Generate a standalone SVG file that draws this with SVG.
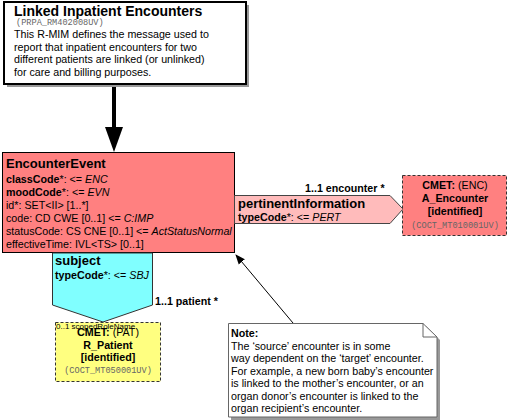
<svg xmlns="http://www.w3.org/2000/svg" width="509" height="420" viewBox="0 0 509 420">
<defs>
<marker id="arr" markerWidth="10" markerHeight="10" refX="9" refY="5" orient="auto" markerUnits="userSpaceOnUse">
<path d="M0,1 L10,5 L0,9 Z" fill="#000"/>
</marker>
</defs>
<style>
text{font-family:"Liberation Sans",Arial,sans-serif;fill:#000}
.b{font-weight:bold}
.i{font-style:italic}
.t11{font-size:10.7px}
.t13{font-size:13px}
.mono{font-family:"Liberation Mono","Courier New",monospace;font-size:8.6px;fill:#666}
.shadow{fill:#999}
.dash{stroke:#333;stroke-width:1;stroke-dasharray:3,2}
</style>
<rect width="509" height="420" fill="#fff"/>

<g id="connectors">
<line x1="114" y1="84" x2="114" y2="128" stroke="#000" stroke-width="4"/>
<polygon points="105,127 123,127 114,152" fill="#000"/>
<line x1="293" y1="323" x2="236" y2="255" stroke="#000" stroke-width="1" marker-end="url(#arr)"/>
</g>

<g id="title">
<rect x="7" y="5" width="242" height="82" class="shadow"/>
<rect x="4" y="2" width="242" height="82" fill="#fff" stroke="#000" stroke-width="2"/>
<text x="14" y="16" class="b" style="font-size:14px">Linked Inpatient Encounters</text>
<text x="16" y="25" class="mono">(PRPA_RM402008UV)</text>
<text x="14" y="38" class="t11">This R-MIM defines the message used to</text>
<text x="14" y="50.5" class="t11">report that inpatient encounters for two</text>
<text x="14" y="63" class="t11">different patients are linked (or unlinked)</text>
<text x="14" y="75.5" class="t11">for care and billing purposes.</text>
</g>

<g id="EncounterEvent">
<rect x="2.5" y="152.5" width="232" height="100" fill="#FF8080" stroke="#000" stroke-width="1"/>
<text x="6" y="168" class="b t13">EncounterEvent</text>
<text x="6" y="183" class="t11"><tspan class="b">classCode</tspan>*: &lt;= <tspan class="i">ENC</tspan></text>
<text x="6" y="196" class="t11"><tspan class="b">moodCode</tspan>*: &lt;= <tspan class="i">EVN</tspan></text>
<text x="6" y="209" class="t11">id*: SET&lt;II&gt; [1..*]</text>
<text x="6" y="222" class="t11">code: CD CWE [0..1] &lt;= <tspan class="i">C:IMP</tspan></text>
<text x="6" y="235" class="t11">statusCode: CS CNE [0..1] &lt;= <tspan class="i">ActStatusNormal</tspan></text>
<text x="6" y="248" class="t11">effectiveTime: IVL&lt;TS&gt; [0..1]</text>
</g>

<g id="pertinentInformation">
<path d="M234.5,195.5 L390,195.5 L403,209 L390,223.5 L234.5,223.5 Z" fill="#FFBBBB" stroke="#444" stroke-width="1"/>
<text x="238" y="208" class="b t13">pertinentInformation</text>
<text x="238" y="221" class="t11"><tspan class="b">typeCode</tspan>*: &lt;= <tspan class="i">PERT</tspan></text>
<text x="305" y="192" class="b t11">1..1 encounter  *</text>
</g>

<g id="A_Encounter">
<rect x="402.5" y="175.5" width="104" height="60" fill="#FF8080" class="dash"/>
<text x="455" y="189" text-anchor="middle" class="t11"><tspan class="b">CMET:</tspan> (ENC)</text>
<text x="455" y="202" text-anchor="middle" class="b t11">A_Encounter</text>
<text x="455" y="215" text-anchor="middle" class="b t11">[identified]</text>
<text x="455" y="228" text-anchor="middle" class="mono">(COCT_MT010001UV)</text>
</g>

<g id="subject">
<path d="M52.5,253 L152.5,253 L152.5,305 L103,322 L52.5,305 Z" fill="#80FFFF" stroke="#333" stroke-width="1"/>
<text x="55" y="265" class="b t13">subject</text>
<text x="55" y="279" class="t11"><tspan class="b">typeCode</tspan>*: &lt;= <tspan class="i">SBJ</tspan></text>
<text x="155" y="305" class="b t11">1..1 patient  *</text>
</g>

<g id="R_Patient">
<rect x="55.5" y="322.5" width="105" height="59" fill="#FFFF80" class="dash"/>
<text x="56" y="329" style="font-size:8px">0..1 scopedRoleName</text>
<text x="108" y="336" text-anchor="middle" class="t11"><tspan class="b">CMET:</tspan> (PAT)</text>
<text x="108" y="348.5" text-anchor="middle" class="b t11">R_Patient</text>
<text x="108" y="361" text-anchor="middle" class="b t11">[identified]</text>
<text x="108" y="373" text-anchor="middle" class="mono">(COCT_MT050001UV)</text>
</g>

<g id="note">
<path d="M231,326 L426,326 L440,340 L440,420 L231,420 Z" class="shadow"/>
<path d="M228.5,323.5 L423,323.5 L437,337 L437,417 L228.5,417 Z" fill="#fff" stroke="#666" stroke-width="1"/>
<path d="M423,323.5 L423,337 L437,337" fill="none" stroke="#666" stroke-width="1"/>
<text x="231" y="337" class="b t11">Note:</text>
<text x="231" y="349.5" class="t11">The ‘source’ encounter is in some</text>
<text x="231" y="362" class="t11">way dependent on the ‘target’ encounter.</text>
<text x="231" y="374.5" class="t11">For example, a new born baby’s encounter</text>
<text x="231" y="387" class="t11">is linked to the mother’s encounter, or an</text>
<text x="231" y="399.5" class="t11">organ donor’s encounter is linked to the</text>
<text x="231" y="412" class="t11">organ recipient’s encounter.</text>
</g>
</svg>
